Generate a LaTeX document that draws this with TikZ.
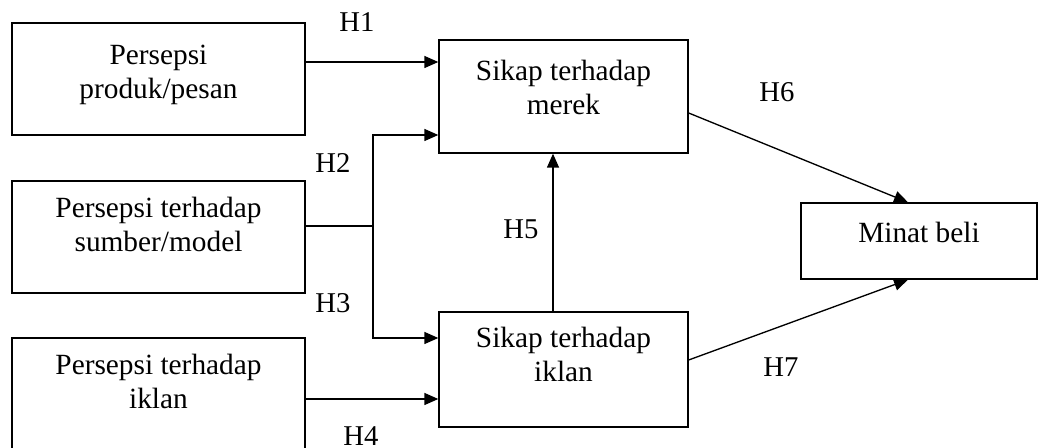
\documentclass[tikz,border=0pt]{standalone}
\usepackage{fontspec}
\setmainfont{Liberation Serif}
\usetikzlibrary{arrows.meta, calc}
\newcommand{\boxtext}[2]{\raisebox{#1}[\height][\depth]{\begin{tabular}{@{}c@{}}#2\end{tabular}}}
\tikzstyle{arrow} = [line width=1pt,-{Triangle[length=10.5pt,width=9pt]}]
\tikzstyle{box} = [rectangle, draw, line width=1pt, inner sep=0pt, font=\fontsize{22}{25.5}\selectfont]
\tikzstyle{hlabel} = [font=\fontsize{21.5}{22}\selectfont]
\begin{document}
\begin{tikzpicture}[x=0.75pt,y=-0.75pt]
        \useasboundingbox (0,0) rectangle (1039,448);

        % left column
        \node at (158.5,79) [box, minimum width=219.75pt, minimum height=84pt] (p1) {\boxtext{3pt}{Persepsi\\produk/pesan}};
        \node at (158.5,237) [box, minimum width=219.75pt, minimum height=84pt] (p2) {\boxtext{6.6pt}{Persepsi terhadap\\sumber/model}};
        \node at (158.5,394) [box, minimum width=219.75pt, minimum height=84pt] (p3) {\boxtext{7pt}{Persepsi terhadap\\iklan}};

        % middle and right
        \node at (563.5,96.5) [box, minimum width=186.75pt, minimum height=84.75pt] (merek) {\boxtext{4.3pt}{Sikap terhadap\\merek}};
        \node at (563.5,369.5) [box, minimum width=186.75pt, minimum height=86.25pt] (iklan) {\boxtext{8.5pt}{Sikap terhadap\\iklan}};
        \node at (919,241) [box, minimum width=177pt, minimum height=57pt] (minat) {\boxtext{4.3pt}{Minat beli}};

        % connectors
        \draw [arrow] ($(p1.east)+(0,-17)$) coordinate (a1) -- (a1 -| merek.west);
        \coordinate (j) at (373,226);
        \draw [line width=1pt] ($(p2.east)+(0,-11)$) -- (j);
        \draw [arrow] (j) |- ($(merek.west)+(0,38.5)$);
        \draw [arrow] (j) |- ($(iklan.west)+(0,-31.5)$);
        \draw [arrow] ($(p3.east)+(0,5)$) coordinate (a4) -- (a4 -| iklan.west);
        \draw [arrow] ($(iklan.north)+(-10.5,0)$) coordinate (a5) -- (a5 |- merek.south);
        \draw [arrow] ($(merek.east)+(0,16.5)$) -- ($(minat.north)+(-11,0)$);
        \draw [arrow] ($(iklan.east)+(0,-9.5)$) -- ($(minat.south)+(-11,0)$);

        % hypothesis labels
        \node at (357,22) [hlabel] (h1) {H1};
        \node at (333,163) [hlabel] (h2) {H2};
        \node at (333,303) [hlabel] (h3) {H3};
        \node at (361,436) [hlabel] (h4) {H4};
        \node at (521,229) [hlabel] (h5) {H5};
        \node at (777,92) [hlabel] (h6) {H6};
        \node at (781,367) [hlabel] (h7) {H7};
\end{tikzpicture}
\end{document}
